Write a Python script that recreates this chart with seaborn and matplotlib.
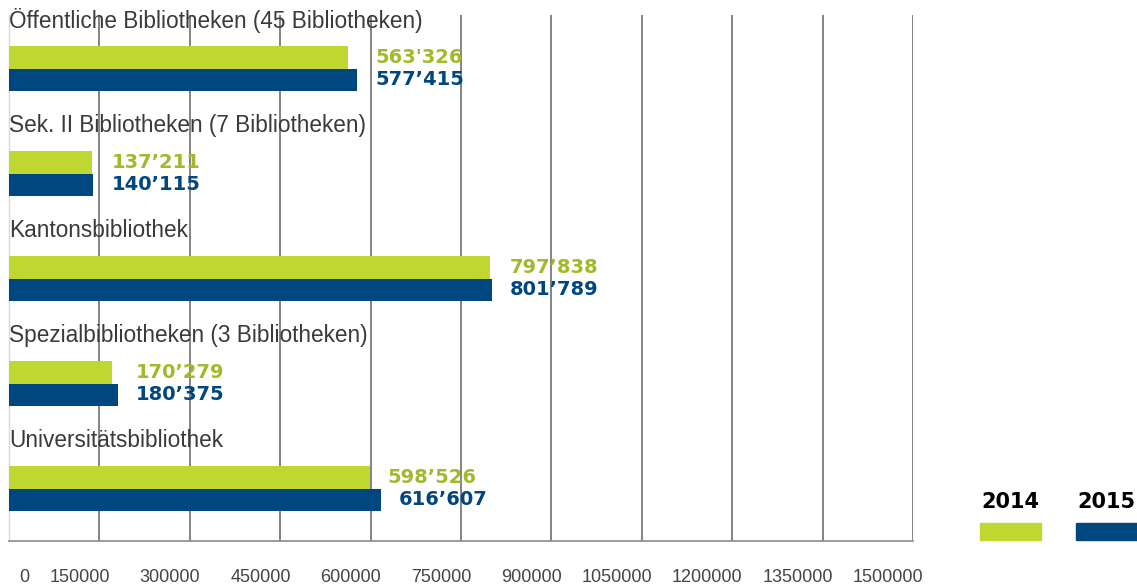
import matplotlib
matplotlib.use("Agg")
import matplotlib.pyplot as plt
import matplotlib.transforms as mtransforms
from matplotlib.patches import Rectangle
import seaborn as sns
import pandas as pd

categories = [
    "Öffentliche Bibliotheken (45 Bibliotheken)",
    "Sek. II Bibliotheken (7 Bibliotheken)",
    "Kantonsbibliothek",
    "Spezialbibliotheken (3 Bibliotheken)",
    "Universitätsbibliothek",
]
values_2014 = [563326, 137211, 797838, 170279, 598526]
values_2015 = [577415, 140115, 801789, 180375, 616607]
labels_2014 = ["563'326", "137’211", "797’838", "170’279", "598’526"]
labels_2015 = ["577’415", "140’115", "801’789", "180’375", "616’607"]
years = ["2014", "2015"]
ticks = [0, 150000, 300000, 450000, 600000, 750000, 900000, 1050000, 1200000, 1350000, 1500000]

GREEN = "#bfd730"
GREEN_TXT = "#a2b92b"
BLUE = "#00467f"

df = pd.DataFrame({
    "cat": categories * 2,
    "year": [years[0]] * 5 + [years[1]] * 5,
    "value": values_2014 + values_2015,
})

sns.set_style("white")
plt.rcParams["font.family"] = ["Liberation Sans", "DejaVu Sans"]

W, H = 1137, 585
fig = plt.figure(figsize=(W / 100, H / 100), dpi=100)
ax = fig.add_axes([9 / W, (H - 541) / H, (913 - 9) / W, (541 - 15) / H])

sns.barplot(data=df, y="cat", x="value", hue="year", orient="h",
            palette=[GREEN, BLUE], width=0.42, saturation=1, legend=False,
            order=categories, hue_order=years, ax=ax, zorder=3)
for p in ax.patches:
    p.set_edgecolor("none")
    p.set_linewidth(0)

ax.set_xlim(0, 1500000)
ax.set_ylim(4.5, -0.51)
ax.set_xlabel("")
ax.set_ylabel("")
ax.set_yticks([])

for t in ticks[1:]:
    ax.axvline(t, color="#7a7a7a", lw=1.3, zorder=1)

for s in ["top", "right"]:
    ax.spines[s].set_visible(False)
ax.spines["left"].set_color("#d8d8d8")
ax.spines["left"].set_linewidth(1.0)
ax.spines["bottom"].set_color("#8a8a8a")
ax.spines["bottom"].set_linewidth(1.2)

ax.set_xticks(ticks)
ax.set_xticklabels([str(t) for t in ticks], fontsize=13, color="#444444", ha="right")
ax.tick_params(axis="x", length=0, pad=20)
off = mtransforms.ScaledTranslation(10.5 / 100, 0, fig.dpi_scale_trans)
for i, lab in enumerate(ax.get_xticklabels()):
    extra = 10 / 100 if i == 0 else 0
    lab.set_transform(lab.get_transform() + off +
                      mtransforms.ScaledTranslation(extra, 0, fig.dpi_scale_trans))

# category labels
for i, c in enumerate(categories):
    ax.text(0, i - 0.46, c, fontsize=16.3, color="#3a3a3a", va="center",
            ha="left", zorder=4)

# value labels
pad = mtransforms.ScaledTranslation(18 / 100, 0, fig.dpi_scale_trans)
for i in range(len(categories)):
    xm = max(values_2014[i], values_2015[i])
    x14 = xm if i != 4 else values_2014[i]
    x15 = xm if i != 4 else values_2015[i]
    ax.text(x14, i - 0.105, labels_2014[i], transform=ax.transData + pad,
            fontsize=14, fontweight="bold", color=GREEN_TXT, va="center",
            ha="left", family="DejaVu Sans", zorder=4)
    ax.text(x15, i + 0.105, labels_2015[i], transform=ax.transData + pad,
            fontsize=14, fontweight="bold", color=BLUE, va="center",
            ha="left", family="DejaVu Sans", zorder=4)

# legend
for x0, yr, col in [(980, years[0], GREEN), (1076, years[1], BLUE)]:
    fig.text((x0 + 30) / W, 1 - 502 / H, yr, fontsize=15, fontweight="bold",
             color="black", ha="center", va="center", family="DejaVu Sans")
    fig.patches.append(Rectangle((x0 / W, 1 - 540 / H), 61 / W, 17 / H,
                                 transform=fig.transFigure, color=col))

fig.savefig("out.png", dpi=100)
